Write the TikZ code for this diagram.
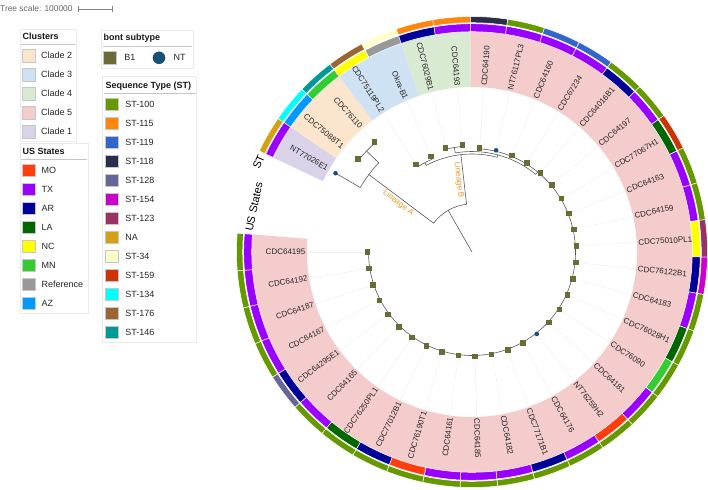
\documentclass[tikz,border=0pt]{standalone}
\usepackage{fontspec}
\setmainfont{Liberation Sans}
\usepackage{tikz}
\usetikzlibrary{positioning}
% US states
\definecolor{usMO}{HTML}{FF3D0F}
\definecolor{usTX}{HTML}{9900FF}
\definecolor{usAR}{HTML}{000099}
\definecolor{usLA}{HTML}{006600}
\definecolor{usNC}{HTML}{FFFF00}
\definecolor{usMN}{HTML}{33CC33}
\definecolor{usRF}{HTML}{999999}
\definecolor{usAZ}{HTML}{0099FF}
% sequence types
\definecolor{stG}{HTML}{669900}
\definecolor{stO}{HTML}{FF860D}
\definecolor{stB}{HTML}{3366CC}
\definecolor{stK}{HTML}{2B2E4A}
\definecolor{stV}{HTML}{666699}
\definecolor{stM}{HTML}{CC00CC}
\definecolor{stW}{HTML}{993366}
\definecolor{stN}{HTML}{D6A015}
\definecolor{stY}{HTML}{FFFFCC}
\definecolor{stR}{HTML}{CC3300}
\definecolor{stC}{HTML}{00FFFF}
\definecolor{stU}{HTML}{996633}
\definecolor{stT}{HTML}{009999}
% clusters
\definecolor{cladeI}{HTML}{D9D2E9}
\definecolor{cladeII}{HTML}{FCE5CD}
\definecolor{cladeIII}{HTML}{CFE2F3}
\definecolor{cladeIV}{HTML}{D9EAD3}
\definecolor{cladeV}{HTML}{F4CCCC}
\definecolor{bone}{HTML}{6B6B37}
\definecolor{ntblue}{HTML}{195078}
\definecolor{linorange}{HTML}{F7941D}
\newcommand{\ringseg}[5]{%
  \filldraw[fill=#1,draw=white,line width=0.5pt] (#2:#4) arc[start angle=#2,end angle=#3,radius=#4]
    -- (#3:#5) arc[start angle=#3,end angle=#2,radius=#5] -- cycle;}
\newcommand{\cladeband}[3]{%
  \fill[#1] (#2:165) arc[start angle=#2,end angle=#3,radius=165]
    -- (#3:220.3) arc[start angle=#3,end angle=#2,radius=220.3] -- cycle;}
\tikzset{
  branch/.style={draw=black!65,line width=0.6pt},
  guide/.style={draw=black!7,line width=0.4pt},
  leaflab/.style={font=\fontsize{8}{9}\selectfont,text=black!85,inner sep=0pt},
  sqB/.style={rectangle,fill=bone,minimum size=5.5pt,inner sep=0pt},
  dotN/.style={circle,fill=ntblue,minimum size=4.6pt,inner sep=0pt},
  lintxt/.style={font=\fontsize{8}{9}\selectfont,text=linorange,inner sep=1pt},
  legbox/.style={draw=black!8,fill=white,line width=0.6pt},
  legrule/.style={draw=black!22,line width=0.9pt},
  legsq/.style={rectangle,minimum size=12.5pt,inner sep=0pt,draw=black!22,line width=0.4pt},
  legtxt/.style={font=\fontsize{9}{10}\selectfont,anchor=west,inner sep=0pt,text=black!85},
  legtitle/.style={font=\bfseries\fontsize{9}{10}\selectfont,anchor=west,inner sep=0pt,text=black!90},
}
\begin{document}
\begin{tikzpicture}[x=1pt,y=1pt]
\useasboundingbox (0,0) rectangle (708,-489);
%
% tree scale
{
\node (tscale) [font=\fontsize{8.4}{9}\selectfont,text=black!60,anchor=west,inner sep=0pt] at (0,-8.5) {Tree scale: 100000};
\coordinate (sbarL) at (78,-9.5);
\coordinate (sbarR) at (112,-9.5);
\draw[|-|,black!50,line width=0.5pt] (sbarL) -- (sbarR);
}
%
% legend: clusters
{
\draw[legbox] (20,-29) rectangle (76,-141);
\node (hclu) [legtitle] at (22.5,-36.5) {Clusters};
\draw[legrule] (21,-44.5) -- (75,-44.5);
\foreach \j/\cc/\lbl in {0/cladeII/Clade 2,1/cladeIII/Clade 3,2/cladeIV/Clade 4,3/cladeV/Clade 5,4/cladeI/Clade 1}{
  \node (kcl\j) [legsq,fill=\cc] at (28.5,-55.5-19*\j) {};
  \node (tcl\j) [legtxt,right=6pt of kcl\j] {\lbl};
}
}
%
% legend: US states
{
\draw[legbox] (20,-143) rectangle (88,-313);
\node (hus) [legtitle] at (22.5,-151) {US States};
\draw[legrule] (21,-159.5) -- (87,-159.5);
\foreach \j/\cc/\lbl in {0/usMO/MO,1/usTX/TX,2/usAR/AR,3/usLA/LA,4/usNC/NC,5/usMN/MN,6/usRF/Reference,7/usAZ/AZ}{
  \node (kus\j) [legsq,fill=\cc] at (28.5,-170-19*\j) {};
  \node (tus\j) [legtxt,right=6.5pt of kus\j] {\lbl};
}
}
%
% legend: bont subtype
{
\draw[legbox] (101.5,-30) rectangle (193,-68);
\node (hbont) [legtitle] at (103.5,-38.3) {bont subtype};
\draw[legrule] (102.5,-46.7) -- (192,-46.7);
\node (kb1) [legsq,fill=bone] at (109.7,-57.8) {};
\node (tb1) [legtxt,right=8pt of kb1] {B1};
\node (knt) [circle,fill=ntblue,minimum size=12.6pt,inner sep=0pt] at (159,-57.8) {};
\node (tnt) [legtxt,right=8pt of knt] {NT};
}
%
% legend: sequence type
{
\draw[legbox] (102.5,-76.5) rectangle (196.5,-342);
\node (hst) [legtitle] at (105.5,-85.7) {Sequence Type (ST)};
\draw[legrule] (103.5,-93.5) -- (195.5,-93.5);
\foreach \j/\cc/\lbl in {0/stG/ST-100,1/stO/ST-115,2/stB/ST-119,3/stK/ST-118,4/stV/ST-128,5/stM/ST-154,6/stW/ST-123,7/stN/NA,8/stY/ST-34,9/stR/ST-159,10/stC/ST-134,11/stU/ST-176,12/stT/ST-146}{
  \node (kst\j) [legsq,fill=\cc] at (111.7,-104-19*\j) {};
  \node (tst\j) [legtxt,right=7pt of kst\j] {\lbl};
}
}
%
\begin{scope}[shift={(472,-252)}]
% clade bands
\cladeband{cladeI}{154.583}{145.417}
\cladeband{cladeII}{145.417}{127.083}
\cladeband{cladeIII}{127.083}{108.75}
\cladeband{cladeIV}{108.75}{90.417}
\cladeband{cladeV}{90.417}{-184.583}
%
% ring titles
\node (dsST) [font=\fontsize{11}{12}\selectfont,rotate=67,inner sep=0pt] at (157.1:231.5) {ST};
\node (dsUS) [font=\fontsize{11}{12}\selectfont,rotate=78,inner sep=0pt] at (168.3:222.6) {US States};
%
% backbone
{
\coordinate (ctr) at (0,0);
\coordinate (nR) at (119.8:48);
\draw[branch] (ctr) -- (nR);
\draw[branch] (143.1:48) arc[start angle=143.1,end angle=96.5,radius=48];
\coordinate (nA0) at (143.1:48);
\coordinate (nA) at (143.1:129);
\draw[branch] (nA0) -- node[lintxt,below,sloped] {Lineage A} (nA);
\draw[branch] (150:129) arc[start angle=150,end angle=136.25,radius=129];
\coordinate (nC2a) at (136.25:129);
\coordinate (nC2) at (136.25:146);
\draw[branch] (nC2a) -- (nC2);
\draw[branch] (140.83:146) arc[start angle=140.83,end angle=131.67,radius=146];
}
{
\coordinate (nB0) at (96.5:48);
\coordinate (nB) at (96.5:98);
\draw[branch] (nB0) -- node[lintxt,below,sloped] {Lineage B} (nB);
\draw[branch] (117.9:98) arc[start angle=117.9,end angle=75.1,radius=98];
\coordinate (nC3a) at (117.9:98);
\coordinate (nC3) at (117.9:101);
\draw[branch] (nC3a) -- (nC3);
\draw[branch] (122.5:101) arc[start angle=122.5,end angle=113.33,radius=101];
\coordinate (nXa) at (75.1:98);
\coordinate (nX) at (75.1:100.5);
\draw[branch] (nXa) -- (nX);
\draw[branch] (99.58:100.5) arc[start angle=99.58,end angle=50.6,radius=100.5];
\coordinate (nC4a) at (99.58:100.5);
\coordinate (nC4) at (99.58:106);
\draw[branch] (nC4a) -- (nC4);
\draw[branch] (104.17:106) arc[start angle=104.17,end angle=95,radius=106];
\coordinate (nC5a) at (50.6:100.5);
\coordinate (nC5) at (50.6:103.5);
\draw[branch] (nC5a) -- (nC5);
\draw[branch] (85.83:103.5) arc[start angle=85.83,end angle=-180,radius=103.5];
}
%
% leaves: rings, guides, markers, labels
\foreach \i/\nm/\pr/\rr/\mk/\us/\st in {
  0/NT77026E1/129/157.6/dotN/usTX/stN,
  1/CDC75088T1/146/147/sqB/usAZ/stC,
  2/CDC76110/146/147/sqB/usMN/stT,
  3/CDC75119PL2/101/104/sqB/usNC/stU,
  4/Okra-B1/101/104/sqB/usRF/stY,
  5/CDC76029B1/106/107.5/sqB/usAR/stO,
  6/CDC64193/106/107.5/sqB/usTX/stO,
  7/CDC64190/103.5/104.5/sqB/usTX/stK,
  8/NT76117PL3/103.5/104.5/dotN/usTX/stG,
  9/CDC64160/103.5/104.5/sqB/usTX/stB,
  10/CDC67234/103.5/104.5/sqB/usTX/stB,
  11/CDC64016B1/103.5/104.5/sqB/usAR/stG,
  12/CDC64197/103.5/104.5/sqB/usTX/stG,
  13/CDC77067H1/103.5/104.5/sqB/usLA/stR,
  14/CDC64163/103.5/104.5/sqB/usTX/stG,
  15/CDC64159/103.5/104.5/sqB/usTX/stG,
  16/CDC75010PL1/103.5/104.5/sqB/usNC/stW,
  17/CDC76122B1/103.5/104.5/sqB/usAR/stM,
  18/CDC64183/103.5/104.5/sqB/usTX/stG,
  19/CDC76028H1/103.5/104.5/sqB/usLA/stG,
  20/CDC76090/103.5/104.5/sqB/usMN/stG,
  21/CDC64181/103.5/104.5/sqB/usTX/stG,
  22/NT76259H2/103.5/104.5/dotN/usMO/stG,
  23/CDC64176/103.5/104.5/sqB/usTX/stG,
  24/CDC77171B1/103.5/104.5/sqB/usAR/stG,
  25/CDC64182/103.5/104.5/sqB/usTX/stG,
  26/CDC64185/103.5/104.5/sqB/usTX/stG,
  27/CDC64161/103.5/104.5/sqB/usTX/stG,
  28/CDC76190T1/103.5/104.5/sqB/usMO/stG,
  29/CDC77012B1/103.5/104.5/sqB/usAR/stG,
  30/CDC76250PL1/103.5/104.5/sqB/usLA/stG,
  31/CDC64165/103.5/104.5/sqB/usTX/stG,
  32/CDC64295E1/103.5/104.5/sqB/usAR/stV,
  33/CDC64167/103.5/104.5/sqB/usTX/stG,
  34/CDC64187/103.5/104.5/sqB/usTX/stG,
  35/CDC64192/103.5/104.5/sqB/usTX/stG,
  36/CDC64195/103.5/104.5/sqB/usTX/stG}{
  \pgfmathsetmacro{\a}{150-\i*330/36}
  \pgfmathsetmacro{\aa}{\a+4.5833}
  \pgfmathsetmacro{\ab}{\a-4.5833}
  \pgfmathtruncatemacro{\rside}{(\a>-90)&&(\a<90)}
  \ringseg{\us}{\aa}{\ab}{220.3}{228.3}
  \ringseg{\st}{\aa}{\ab}{229.3}{235.5}
  \coordinate (pr\i) at (\a:\pr);
  \coordinate (lf\i) at (\a:\rr);
  \coordinate (gd\i) at (\a:165);
  \draw[guide] (lf\i) -- (gd\i);
  \draw[branch] (pr\i) -- (lf\i);
  \node (mk\i) [\mk] at (lf\i) {};
  \ifnum\rside=1
    \node (lab\i) [leaflab,rotate=\a,anchor=west] at (\a:166.5) {\nm};
  \else
    \node (lab\i) [leaflab,rotate=\a+180,anchor=east] at (\a:166.5) {\nm};
  \fi
}
\end{scope}
\end{tikzpicture}
\end{document}
